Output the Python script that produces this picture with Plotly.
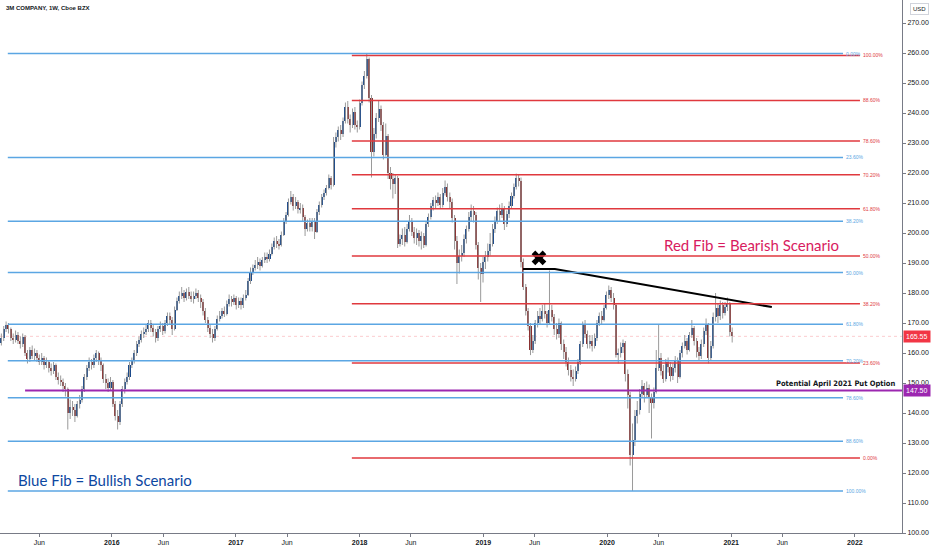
import pandas as pd
import plotly.graph_objects as go

# Weekly candles, 3M (MMM). Open = previous week's close.
first_open = 163.5
closes = [
    # 2015
    165.0, 168.0, 169.5, 168.0, 165.0, 164.5, 166.0, 164.0, 163.0, 165.5, 160.0, 158.0, 161.0, 159.0, 160.0, 158.5,
    157.0, 158.5, 156.0, 157.0, 155.0, 154.0, 156.0, 152.0, 151.0, 150.5, 149.0, 148.0, 140.0, 142.0, 141.0, 139.0,
    143.0, 144.5, 148.0, 152.0, 155.0, 157.0, 156.0, 158.5, 160.0, 157.5, 156.0, 151.5, 150.0, 148.5, 150.5,
    # 2016
    143.0, 139.0, 137.0, 143.0, 148.0, 150.5, 152.0, 156.0, 157.5, 160.0, 163.0, 164.5, 166.5, 167.0, 168.0, 170.0,
    168.5, 167.0, 165.0, 168.0, 169.0, 167.5, 170.0, 172.5, 171.0, 168.0, 174.5, 177.5, 179.0, 180.0, 178.5, 180.5,
    179.0, 178.0, 179.0, 180.0, 178.5, 177.0, 174.0, 171.0, 168.5, 166.5, 165.0, 168.0, 171.5, 172.5, 174.0, 173.0,
    176.5, 178.0, 177.0, 178.5,
    # 2017
    176.0, 177.5, 176.0, 178.5, 179.5, 184.0, 187.0, 188.5, 189.5, 190.5, 189.0, 191.0, 192.0, 191.5, 193.0, 195.5,
    197.5, 196.5, 196.0, 199.5, 204.0, 206.0, 210.5, 212.0, 209.0, 210.5, 208.0, 208.5, 205.5, 201.5, 203.5, 202.0,
    204.0, 200.5, 207.0, 209.5, 212.0, 213.5, 215.0, 218.5, 216.0, 230.5, 232.0, 234.5, 233.0, 237.5, 242.0, 238.0,
    236.0, 240.5, 236.0, 235.5,
    # 2018
    243.5, 249.5, 252.5, 258.0, 245.0, 227.0, 233.0, 238.5, 241.5, 236.0, 226.0, 232.5, 220.0, 218.0, 216.5, 218.5,
    196.5, 198.0, 199.5, 197.0, 201.5, 204.0, 200.5, 198.5, 200.0, 197.5, 199.0, 196.0, 203.0, 205.5, 209.0, 211.0,
    210.0, 212.0, 209.5, 213.5, 215.5, 212.0, 210.5, 205.0, 197.5, 190.0, 192.5, 193.5, 198.0, 201.5, 205.5, 207.5,
    206.0, 196.0, 188.5, 186.5,
    # 2019
    190.5, 192.0, 194.0, 196.5, 201.5, 204.0, 207.5, 206.0, 208.5, 203.0, 206.5, 209.0, 212.5, 215.5, 218.5, 217.5,
    190.5, 182.0, 174.0, 169.0, 161.0, 164.0, 170.0, 172.5, 171.5, 174.0, 173.0, 170.0, 174.5, 172.0, 168.0, 166.5,
    170.0, 163.0, 160.5, 157.0, 154.5, 152.0, 151.5, 154.0, 157.0, 163.0, 169.5, 166.5, 163.0, 164.0, 162.5, 165.0,
    170.0, 172.5, 171.0, 175.0,
    # 2020 - Jan 2021
    179.5, 181.0, 178.5, 176.0, 159.5, 160.0, 162.0, 163.5, 153.0, 146.0, 126.0, 131.0, 139.0, 141.0, 146.5, 149.0,
    146.0, 148.5, 145.0, 143.5, 147.0, 155.0, 158.5, 154.0, 151.5, 157.0, 155.5, 152.5, 155.0, 157.5, 152.0, 160.0,
    162.5, 164.0, 161.0, 166.0, 168.5, 164.0, 160.5, 159.0, 163.0, 167.5, 169.5, 158.5, 162.5, 172.0, 175.0, 172.5,
    176.0, 173.5, 175.5, 176.5, 167.0, 165.55,
]
highs = [
    166.5, 169.0, 170.5, 170.0, 168.5, 166.5, 167.5, 167.0, 165.5, 166.5, 166.0, 161.0, 162.0, 162.5, 161.5, 161.0,
    159.5, 160.0, 159.0, 158.5, 157.5, 156.5, 157.0, 156.5, 153.5, 152.5, 151.5, 150.0, 148.5, 144.5, 144.0, 143.0,
    144.0, 146.0, 149.0, 153.0, 156.0, 158.5, 158.0, 159.5, 161.0, 160.5, 158.5, 156.5, 153.0, 151.5, 152.0,
    151.0, 144.0, 141.0, 144.0, 149.0, 151.5, 153.5, 157.0, 158.5, 161.0, 164.0, 165.5, 167.5, 168.5, 169.5, 171.0,
    171.0, 169.5, 168.0, 169.0, 170.5, 170.0, 171.0, 173.5, 173.5, 172.0, 175.5, 178.5, 180.5, 182.0, 181.0, 181.5,
    182.0, 180.5, 180.5, 181.5, 181.0, 179.5, 178.0, 175.0, 172.0, 169.5, 168.0, 169.0, 172.5, 174.0, 175.0, 175.5,
    177.5, 179.5, 179.0, 179.5,
    179.0, 178.5, 178.5, 179.5, 181.0, 185.0, 188.5, 189.5, 191.0, 192.0, 191.5, 192.0, 193.5, 193.5, 194.5, 196.5,
    198.5, 199.0, 198.0, 200.5, 205.0, 207.0, 211.5, 214.0, 213.0, 212.0, 211.0, 210.0, 209.5, 206.0, 204.5, 205.0,
    205.0, 205.0, 208.0, 210.5, 213.0, 214.5, 216.0, 219.5, 219.0, 232.0, 233.5, 235.5, 236.0, 238.5, 243.5, 244.0,
    239.5, 241.5, 242.0, 237.5,
    244.5, 250.5, 254.0, 259.8, 258.5, 246.0, 235.0, 240.0, 244.0, 242.5, 237.0, 236.5, 233.0, 222.0, 220.0, 219.5,
    219.0, 199.5, 201.5, 202.0, 203.0, 206.0, 205.0, 202.0, 201.5, 201.0, 200.5, 200.0, 204.0, 206.5, 210.0, 212.0,
    212.5, 213.5, 213.0, 215.0, 217.5, 216.5, 213.5, 211.5, 206.0, 199.0, 194.5, 196.0, 199.5, 202.5, 207.0, 209.5,
    209.0, 207.0, 197.0, 190.0,
    192.0, 194.0, 196.5, 200.0, 203.0, 205.5, 208.5, 209.5, 210.0, 209.0, 207.5, 210.5, 213.5, 216.5, 219.8, 219.5,
    218.5, 191.5, 183.0, 175.0, 170.0, 166.0, 171.0, 174.0, 175.0, 176.0, 176.5, 174.0, 187.5, 176.0, 173.0, 170.0,
    171.5, 170.5, 164.5, 162.0, 158.5, 156.0, 154.5, 155.5, 158.0, 164.0, 170.5, 171.0, 167.5, 166.0, 166.0, 166.5,
    171.0, 173.5, 174.0, 176.0,
    180.5, 182.5, 182.0, 180.0, 176.5, 161.5, 163.5, 164.5, 164.0, 154.5, 147.0, 136.5, 141.0, 144.0, 148.0, 151.0,
    150.0, 150.5, 149.5, 146.5, 148.5, 161.0, 169.5, 160.0, 156.0, 158.0, 158.5, 157.0, 156.5, 159.0, 158.5, 161.0,
    163.5, 166.0, 165.0, 167.0, 171.0, 169.0, 165.0, 162.0, 164.5, 168.5, 171.5, 170.0, 164.0, 173.5, 180.0, 176.5,
    177.5, 177.0, 177.0, 178.5, 177.0, 168.5,
]
lows = [
    162.5, 164.0, 167.0, 166.5, 164.0, 163.0, 163.5, 163.0, 161.5, 162.0, 159.0, 156.5, 157.0, 158.0, 157.5, 157.0,
    156.0, 156.0, 154.5, 155.0, 153.5, 152.5, 153.0, 151.0, 149.5, 149.0, 147.0, 145.5, 134.5, 138.0, 139.0, 137.0,
    138.5, 141.5, 143.5, 147.0, 151.0, 154.0, 154.5, 155.0, 157.0, 156.0, 154.0, 150.0, 148.0, 147.0, 147.5,
    142.0, 137.5, 134.5, 136.0, 142.0, 146.5, 149.5, 151.0, 155.0, 156.5, 159.0, 162.0, 163.5, 165.0, 166.0, 167.0,
    167.0, 165.5, 163.5, 164.0, 167.0, 166.0, 166.5, 169.0, 169.5, 166.0, 167.5, 174.0, 176.5, 178.0, 177.0, 177.5,
    178.0, 177.0, 176.5, 178.0, 177.0, 175.0, 172.5, 170.0, 167.0, 165.0, 163.5, 164.0, 167.5, 170.5, 171.5, 172.0,
    172.5, 175.5, 175.5, 176.0,
    174.5, 175.0, 174.5, 175.0, 177.5, 179.0, 183.0, 186.0, 187.5, 188.0, 187.5, 188.5, 190.0, 190.0, 190.5, 192.5,
    194.5, 195.0, 194.5, 195.5, 199.0, 203.0, 205.5, 209.5, 207.5, 208.0, 206.5, 206.5, 204.0, 199.0, 200.5, 200.5,
    200.5, 198.0, 200.0, 206.0, 208.5, 211.0, 212.5, 214.5, 214.5, 215.5, 228.5, 230.5, 231.0, 232.0, 236.5, 236.5,
    233.5, 235.0, 234.5, 233.5,
    234.5, 242.5, 248.0, 251.5, 243.5, 218.5, 225.5, 231.5, 237.0, 234.0, 224.5, 225.5, 218.0, 214.5, 211.5, 213.0,
    195.0, 195.5, 196.0, 195.5, 196.5, 200.5, 199.0, 196.5, 196.0, 195.5, 194.5, 195.0, 195.5, 202.0, 204.5, 207.5,
    208.0, 209.0, 208.0, 208.5, 212.5, 210.5, 208.0, 203.5, 194.5, 183.0, 186.5, 190.5, 192.0, 196.5, 200.5, 204.0,
    203.5, 194.5, 184.5, 177.0,
    183.5, 188.0, 190.5, 192.5, 195.5, 200.0, 203.0, 204.0, 205.0, 201.0, 202.0, 205.0, 208.0, 211.5, 214.5, 215.5,
    188.5, 181.0, 172.5, 167.5, 159.3, 160.0, 163.0, 168.5, 169.5, 170.5, 171.5, 168.5, 169.5, 170.5, 166.0, 164.5,
    165.0, 161.0, 158.0, 155.5, 152.5, 150.5, 149.0, 150.5, 153.0, 156.0, 162.0, 165.0, 161.5, 161.5, 160.5, 161.5,
    164.0, 169.0, 169.5, 170.5,
    174.5, 178.0, 177.0, 174.5, 158.5, 156.5, 158.5, 160.0, 150.5, 141.5, 122.5, 114.0, 129.0, 136.5, 139.5, 145.0,
    143.5, 145.0, 140.0, 131.5, 141.5, 146.5, 154.0, 152.5, 150.0, 150.5, 153.5, 150.5, 151.0, 153.5, 150.0, 151.5,
    158.5, 161.5, 159.5, 160.5, 165.0, 162.5, 158.5, 157.5, 158.0, 162.0, 166.0, 156.5, 157.5, 161.5, 170.5, 170.0,
    171.0, 171.5, 172.5, 174.0, 165.5, 163.5,
]

# Fibonacci retracement levels (price) as drawn on the chart
blue_levels = [259.8, 225.2, 203.9, 186.8, 169.6, 157.4, 145.1, 130.6, 114.0]
blue_labels = ['0.00%', '23.60%', '38.20%', '50.00%', '61.80%', '70.20%', '78.60%', '88.60%', '100.00%']
red_levels = [259.2, 244.2, 230.7, 219.4, 208.1, 192.3, 176.4, 156.7, 125.0]
red_labels = ['100.00%', '88.60%', '78.60%', '70.20%', '61.80%', '50.00%', '38.20%', '23.60%', '0.00%']

put_level = 147.50
last_price = 165.55
trend_dates = ['2019-04-28', '2019-07-31', '2021-05-01']
trend_prices = [188.0, 188.0, 175.3]
cross_date = '2019-06-14'
cross_price = 191.7

tick_dates = ['2015-06-01', '2016-01-01', '2016-06-01', '2017-01-01', '2017-06-01', '2018-01-01',
              '2018-06-01', '2019-01-01', '2019-06-01', '2020-01-01', '2020-06-01', '2021-01-01',
              '2021-06-01', '2022-01-01']
tick_text = ['Jun', '<b>2016</b>', 'Jun', '<b>2017</b>', 'Jun', '<b>2018</b>', 'Jun', '<b>2019</b>',
             'Jun', '<b>2020</b>', 'Jun', '<b>2021</b>', 'Jun', '<b>2022</b>']

# Drawing extents (dates) of the fib / put lines
BLUE_START, BLUE_END = '2015-02-28', '2021-11-27'
RED_START, RED_END = '2017-12-09', '2022-01-16'
PUT_START, PUT_END = '2015-04-20', '2022-05-20'
X_RANGE = ['2015-02-05', '2022-05-20']

BLUE = '#5ba6e3'
RED = '#e0393e'
PURPLE = '#9c27b0'
UP = '#1c4a8a'
DOWN = '#8a3030'
WICK = '#9a9a9a'

weeks = pd.date_range('2015-02-09', periods=len(closes), freq='7D')
opens = [first_open] + closes[:-1]

# Wicks as one broken line
wick_x, wick_y = [], []
for d, lo, hi in zip(weeks, lows, highs):
    wick_x += [d, d, None]
    wick_y += [lo, hi, None]

bases = [min(o, c) for o, c in zip(opens, closes)]
heights = [max(abs(c - o), 0.5) for o, c in zip(opens, closes)]
colors = [UP if c >= o else DOWN for o, c in zip(opens, closes)]

fig = go.Figure()
fig.add_trace(go.Scatter(
    x=wick_x, y=wick_y, mode='lines', line=dict(color=WICK, width=1),
    hoverinfo='skip', showlegend=False))
fig.add_trace(go.Bar(
    x=weeks, y=heights, base=bases, width=6 * 24 * 3600 * 1000,
    marker=dict(color=colors, line=dict(width=0)), showlegend=False))

shapes = []
annotations = []

# Last price line
shapes.append(dict(type='line', xref='paper', x0=0, x1=1, yref='y', y0=last_price, y1=last_price,
                   line=dict(color='rgba(242,54,69,0.25)', width=1, dash='dot'), layer='below'))

for level, label in zip(blue_levels, blue_labels):
    shapes.append(dict(type='line', xref='x', yref='y', x0=BLUE_START, x1=BLUE_END, y0=level, y1=level,
                       line=dict(color=BLUE, width=1.5)))
    annotations.append(dict(x=BLUE_END, y=level, xref='x', yref='y', text=label, showarrow=False,
                            xanchor='left', xshift=1, font=dict(size=5, color=BLUE, family='Liberation Sans')))

for level, label in zip(red_levels, red_labels):
    shapes.append(dict(type='line', xref='x', yref='y', x0=RED_START, x1=RED_END, y0=level, y1=level,
                       line=dict(color=RED, width=1.5)))
    annotations.append(dict(x=RED_END, y=level, xref='x', yref='y', text=label, showarrow=False,
                            xanchor='left', xshift=1, font=dict(size=5, color=RED, family='Liberation Sans')))

# Put option line
shapes.append(dict(type='line', xref='x', yref='y', x0=PUT_START, x1=PUT_END, y0=put_level, y1=put_level,
                   line=dict(color=PURPLE, width=2)))

# Trendline and the cross above its start
fig.add_trace(go.Scatter(x=trend_dates, y=trend_prices, mode='lines',
                         line=dict(color='black', width=2), hoverinfo='skip', showlegend=False))
fig.add_trace(go.Scatter(x=[cross_date], y=[cross_price], mode='markers',
                         marker=dict(symbol='x', size=13, color='black', line=dict(width=0)),
                         hoverinfo='skip', showlegend=False))

annotations += [
    dict(x=0.004, y=0.995, xref='paper', yref='paper', text='<b>3M COMPANY, 1W, Cboe BZX</b>',
         showarrow=False, xanchor='left', yanchor='top', font=dict(size=6, color='#131722', family='Liberation Sans')),
    dict(x='2020-06-12', y=196.0, xref='x', yref='y', text='Red Fib = Bearish Scenario', showarrow=False,
         xanchor='left', font=dict(size=15, color='#d81b60', family='Lato')),
    dict(x='2015-03-24', y=117.8, xref='x', yref='y', text='Blue Fib = Bullish Scenario', showarrow=False,
         xanchor='left', font=dict(size=15, color='#0d47a1', family='Lato')),
    dict(x='2022-05-05', y=put_level, xref='x', yref='y', text='<b>Potential April 2021 Put Option</b>',
         showarrow=False, xanchor='right', yanchor='bottom', yshift=1,
         font=dict(size=7.5, color='#131722', family='DejaVu Sans Condensed')),
    dict(x=1, y=last_price, xref='paper', yref='y', text=f'{last_price:.2f}', showarrow=False, xanchor='left',
         xshift=1, bgcolor='#f23645', font=dict(size=7, color='white', family='Liberation Sans'),
         borderpad=2),
    dict(x=1, y=put_level, xref='paper', yref='y', text=f'{put_level:.2f}', showarrow=False, xanchor='left',
         xshift=1, bgcolor=PURPLE, font=dict(size=7, color='white', family='Liberation Sans'), borderpad=2),
    dict(x=1, y=1, xref='paper', yref='paper', text='USD', showarrow=False, xanchor='left', yanchor='top',
         xshift=8, yshift=-3, bordercolor='#d1d4dc', borderwidth=1, borderpad=2,
         font=dict(size=6, color='#131722', family='Liberation Sans')),
]

fig.update_layout(
    width=932, height=550,
    margin=dict(l=0, r=30, t=0, b=17),
    plot_bgcolor='white', paper_bgcolor='white',
    showlegend=False, bargap=0,
    shapes=shapes, annotations=annotations,
    xaxis=dict(
        type='date', range=X_RANGE, showgrid=False, zeroline=False,
        tickmode='array', tickvals=tick_dates, ticktext=tick_text,
        ticks='outside', ticklen=3, tickcolor='#787b86',
        showline=True, linecolor='#787b86', linewidth=1,
        tickfont=dict(size=7, color='#131722', family='Liberation Sans')),
    yaxis=dict(
        side='right', range=[100, 277.67], showgrid=False, zeroline=False,
        tickmode='linear', tick0=100, dtick=10, tickformat='.2f',
        ticks='outside', ticklen=3, tickcolor='#787b86',
        showline=True, linecolor='#787b86', linewidth=1,
        tickfont=dict(size=7, color='#131722', family='Liberation Sans')),
)

# drop the browser's default body margin so the figure fills the window
fig.write_html('out.html', config={'displayModeBar': False},
               post_script="document.body.style.margin='0px';")
